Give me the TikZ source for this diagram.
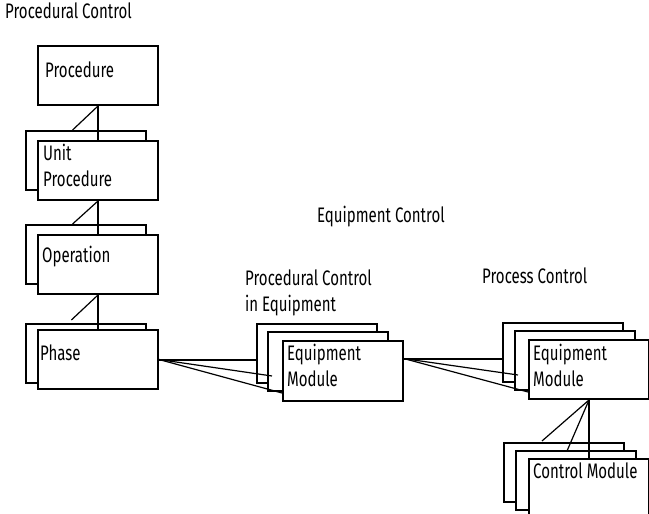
\documentclass[tikz,border=0pt]{standalone}
\usepackage{fontspec}
\setmainfont{Fira Sans}[FakeStretch=0.715]
\usetikzlibrary{calc}
\begin{document}
\begin{tikzpicture}[x=1pt,y=-1pt,
  box/.style={draw,line width=2pt,fill=white,rectangle,inner sep=0pt,anchor=north west,minimum width=120pt,minimum height=59pt},
  lbl/.style={anchor=base west,inner sep=0pt,font=\fontsize{21}{26}\selectfont,align=left},
  solidlink/.style={line width=2pt},
  thinlink/.style={line width=1.2pt}]
\useasboundingbox (0,0) rectangle (649,514);
% titles
\node[lbl] (tproc) at (5,18) {Procedural Control};
\node[lbl] (teq) at (317,222) {Equipment Control};
\node[lbl] (tpce) at (245,311) {Procedural Control\\in Equipment};
\node[lbl] (tpc) at (482,283) {Process Control};
% procedural chain
\node[box] (proc) at (37,45) {};
\node[box] (unitb) at (25,130) {};
\node[box] (unitf) at (37,140) {};
\node[box] (opb) at (25,224) {};
\node[box] (opf) at (37,234) {};
\node[box] (phb) at (25,323) {};
\node[box] (phf) at (37,329) {};
% equipment modules (procedural control in equipment)
\node[box] (ema) at (256,323) {};
\node[box] (emb) at (267,331) {};
\node[box,minimum height=60pt] (emc) at (282,340) {};
% equipment modules (process control)
\node[box] (epa) at (502,322) {};
\node[box] (epb) at (514,330) {};
\node[box] (epc) at (528,339) {};
% control modules
\node[box] (cma) at (503,442) {};
\node[box] (cmb) at (515,450) {};
\node[box] (cmc) at (528,458) {};
% labels in boxes
\node[lbl] (lproc) at (45,77) {Procedure};
\node[lbl] (lunit) at (43,186) {Unit\\Procedure};
\node[lbl] (lop) at (42,262) {Operation};
\node[lbl] (lph) at (40,360) {Phase};
\node[lbl] (lem) at (287,386) {Equipment\\Module};
\node[lbl] (lep) at (533,386) {Equipment\\Module};
\node[lbl] (lcm) at (533,478) {Control Module};
% connectors: procedural chain
\coordinate (d1) at ($(unitb.north west)!0.39!(unitb.north east)$);
\coordinate (d2) at ($(opb.north west)!0.39!(opb.north east)$);
\coordinate (d3) at ($(phb.north west)!0.38!(phb.north east)+(0,-3)$);
\draw[solidlink] (proc.south) -- (unitf.north);
\draw[thinlink] (proc.south) -- (d1);
\draw[solidlink] (unitf.south) -- (opf.north);
\draw[thinlink] (unitf.south) -- (d2);
\draw[solidlink] (opf.south) -- (phf.north);
\draw[thinlink] (opf.south) -- (d3);
% phase to equipment modules
\coordinate (p1) at (272,376);
\coordinate (p2) at (emc.west |- 0,393);
\draw[solidlink] (phf.east) -- (phf.east -| ema.west);
\draw[thinlink] (phf.east) -- (p1);
\draw[thinlink] (phf.east) -- (p2);
% equipment module to equipment module
\coordinate (s2) at ($(emc.north east)!0.3!(emc.south east)$);
\coordinate (q1) at (518,375);
\coordinate (q2) at (epc.west |- 0,392);
\draw[solidlink] (s2) -- (s2 -| epa.west);
\draw[thinlink] (s2) -- (q1);
\draw[thinlink] (s2) -- (q2);
% equipment module to control modules
\coordinate (r1) at (567,451);
\coordinate (r2) at (542,441);
\draw[solidlink] (epc.south) -- (cmc.north);
\draw[thinlink] (epc.south) -- (r1);
\draw[thinlink] (epc.south) -- (r2);
\end{tikzpicture}
\end{document}
